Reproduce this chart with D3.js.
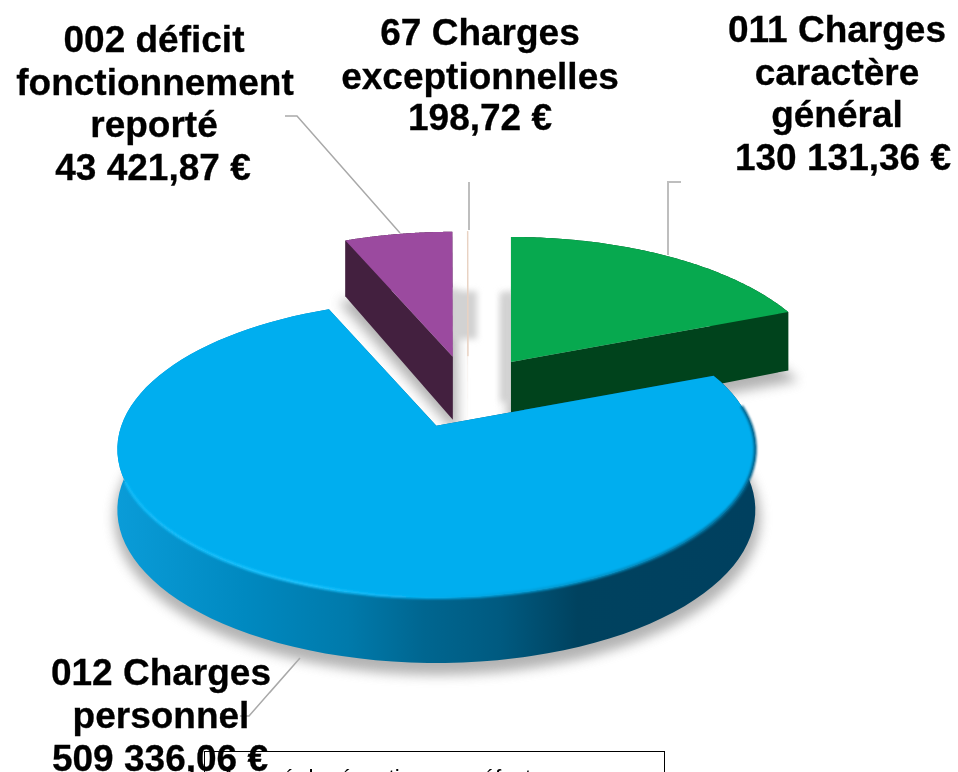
<!DOCTYPE html>
<html>
<head>
<meta charset="utf-8">
<script src="https://cdn.jsdelivr.net/npm/d3@7"></script>
<style>
  html, body { margin: 0; padding: 0; background: #fff; overflow: hidden; }
  text { font-family: "Liberation Sans", Arial, sans-serif; }
</style>
</head>
<body>
<div id="chart"></div>
<script>
var categories = ['011 Charges caractère général', '012 Charges personnel', '002 déficit fonctionnement reporté', '67 Charges exceptionnelles'];
var amounts = [130131.36, 509336.06, 43421.87, 198.72];
var amountLabels = ['130 131,36 €', '509 336,06 €', '43 421,87 €', '198,72 €'];
var topColors = ['#07a94f', '#00aeef', '#9b4a9f', '#e9d3c3'];
var wallColors = ['#00431c', '#00405f', '#43203f', '#e9d3c3'];

var width = 958, height = 772;
var center = [468, 391], explode = 0.25, persp = 0.158, wallHeight = 60;

var svg = d3.select('#chart').append('svg')
  .attr('width', width)
  .attr('height', height)
  .style('display', 'block');

var defs = svg.append('defs');
defs.append('filter').attr('id', 'soft')
  .attr('filterUnits', 'userSpaceOnUse')
  .attr('x', 0).attr('y', 0).attr('width', width).attr('height', height)
  .append('feGaussianBlur').attr('stdDeviation', 6);
defs.append('filter').attr('id', 'patch')
  .attr('filterUnits', 'userSpaceOnUse')
  .attr('x', 0).attr('y', 0).attr('width', width).attr('height', height)
  .append('feGaussianBlur').attr('stdDeviation', 3);
defs.append('filter').attr('id', 'bevel')
  .attr('filterUnits', 'userSpaceOnUse')
  .attr('x', 0).attr('y', 0).attr('width', width).attr('height', height)
  .append('feGaussianBlur').attr('stdDeviation', 1);

var rimGrad = defs.append('linearGradient').attr('id', 'rim')
  .attr('gradientUnits', 'userSpaceOnUse')
  .attr('x1', 117).attr('x2', 757).attr('y1', 0).attr('y2', 0);
[[0, '#0a9cd8'], [0.2, '#0089c0'], [0.36, '#007aab'], [0.48, '#006690'], [0.6, '#005a80'], [0.72, '#00425f'], [1, '#00405f']]
  .forEach(function(s) { rimGrad.append('stop').attr('offset', s[0]).attr('stop-color', s[1]); });

var bevelGrad = defs.append('linearGradient').attr('id', 'bevelStroke')
  .attr('gradientUnits', 'userSpaceOnUse')
  .attr('x1', 117).attr('x2', 757).attr('y1', 0).attr('y2', 0);
[[0, '#10baf8'], [0.3, '#1cc4ff'], [0.5, '#00aeef'], [0.75, '#0092c8'], [1, '#00628c']]
  .forEach(function(s) { bevelGrad.append('stop').attr('offset', s[0]).attr('stop-color', s[1]); });

// scales from the unit pie plane to the screen, before perspective
var xScale = d3.scaleLinear().domain([-1, 1]).range([-315, 315]);
var yScale = d3.scaleLinear().domain([-1, 1]).range([-144.8, 144.8]);

function project(u, v) {
  var s = 1 / (1 - persp * v);
  return [xScale(u) * s, yScale(v) * s];
}

function wall(v) {
  return wallHeight * Math.sqrt(1 / (1 - persp * v));
}

var pie = d3.pie().sort(null).value(function(d) { return d; }).startAngle(0).endAngle(2 * Math.PI);
var arcs = pie(amounts);

var line = d3.line();

var slices = arcs.map(function(a, i) {
  var mid = (a.startAngle + a.endAngle) / 2;
  var off = project(explode * Math.sin(mid), -explode * Math.cos(mid));
  var apex = [center[0] + off[0], center[1] + off[1]];
  var rimTop = [], rimBottom = [];
  d3.range(0, 101).forEach(function(k) {
    var t = a.startAngle + (a.endAngle - a.startAngle) * k / 100;
    var u = Math.sin(t), v = -Math.cos(t);
    var p = project(u, v);
    rimTop.push([apex[0] + p[0], apex[1] + p[1]]);
    rimBottom.push([apex[0] + p[0], apex[1] + p[1] + wall(v)]);
  });
  return {i: i, apex: apex, rimTop: rimTop, rimBottom: rimBottom};
});

var chart = svg.append('g');

// soft shadows under the slices
var shadows = chart.append('g')
  .attr('filter', 'url(#soft)')
  .attr('fill', '#8a8a8a')
  .attr('stroke', '#8a8a8a')
  .attr('stroke-width', 8)
  .attr('opacity', 0.65);
slices.forEach(function(s) {
  if (s.i == 3) return;
  shadows.append('path')
    .attr('transform', 'translate(1,8)')
    .attr('d', line(s.rimBottom.concat([[s.apex[0], s.apex[1] + wallHeight]])) + 'Z');
});
// grey patches seen through the gap between the purple and green slices
var patches = chart.append('g').attr('filter', 'url(#patch)').attr('fill', '#d2d2d2');
patches.append('rect').attr('x', 450).attr('y', 291).attr('width', 27).attr('height', 48);
patches.append('rect').attr('x', 500).attr('y', 292).attr('width', 14).attr('height', 110);

// drawn back to front: purple, tiny slice, green, then the big blue one
[2, 3, 0, 1].forEach(function(i) {
  var s = slices[i];
  var g = chart.append('g');
  var rimFill = i == 1 ? 'url(#rim)' : wallColors[i];

  g.append('path')
    .attr('fill', rimFill)
    .attr('d', line(s.rimTop.concat(s.rimBottom.slice().reverse())) + 'Z');

  // cut faces of the wedge
  [s.rimTop[0], s.rimTop[100]].forEach(function(p, k) {
    var b = k == 0 ? s.rimBottom[0] : s.rimBottom[100];
    g.append('path')
      .attr('fill', rimFill)
      .attr('d', line([s.apex, p, b, [s.apex[0], s.apex[1] + wallHeight + 3]]) + 'Z');
  });

  g.append('path')
    .attr('fill', topColors[i])
    .attr('stroke', i == 3 ? topColors[i] : 'none')
    .attr('d', line([s.apex].concat(s.rimTop)) + 'Z');

  if (i == 1) {
    g.append('path')
      .attr('fill', 'none')
      .attr('stroke', 'url(#bevelStroke)')
      .attr('stroke-width', 3)
      .attr('filter', 'url(#bevel)')
      .attr('d', line(s.rimTop.slice(5, 68)));
  }
});

// leader lines
var leaders = [
  [[667, 182], [681, 182]],
  [[668, 183], [668, 255]],
  [[469, 182], [469, 230]],
  [[285, 116], [297, 116], [400, 233]],
  [[300, 658], [249, 716], [240, 716]]
];
svg.append('g').selectAll('path').data(leaders).enter().append('path')
  .attr('fill', 'none')
  .attr('stroke', '#a9a9a9')
  .attr('stroke-width', 1.5)
  .attr('d', function(d) { return line(d); });

// labels
var labelLines = [
  {x: [837, 837, 837, 843], y: [42, 85, 127, 170], lines: ['011 Charges', 'caractère', 'général', amountLabels[0]]},
  {x: [161, 161, 160], y: [685, 728, 771], lines: ['012 Charges', 'personnel', amountLabels[1]]},
  {x: [154, 155, 154, 153], y: [52, 95, 137, 180], lines: ['002 déficit', 'fonctionnement', 'reporté', amountLabels[2]]},
  {x: [480, 480, 480], y: [45, 89, 130], lines: ['67 Charges', 'exceptionnelles', amountLabels[3]]}
];
var labels = svg.append('g')
  .attr('font-weight', 'bold')
  .attr('font-size', 37)
  .attr('fill', '#000')
  .attr('stroke', '#000')
  .attr('stroke-width', 0.3)
  .attr('text-anchor', 'middle');
labelLines.forEach(function(l) {
  l.lines.forEach(function(t, k) {
    labels.append('text').attr('x', l.x[k]).attr('y', l.y[k]).text(t);
  });
});

// text box cut by the bottom of the picture
svg.append('rect')
  .attr('x', 204.5).attr('y', 751.5)
  .attr('width', 460).attr('height', 60)
  .attr('fill', 'none')
  .attr('stroke', '#000')
  .attr('stroke-width', 1);
svg.append('text')
  .attr('x', 221).attr('y', 785)
  .attr('font-size', 22.5)
  .attr('fill', '#000')
  .text('Accusé de réception en préfecture');
</script>
</body>
</html>
